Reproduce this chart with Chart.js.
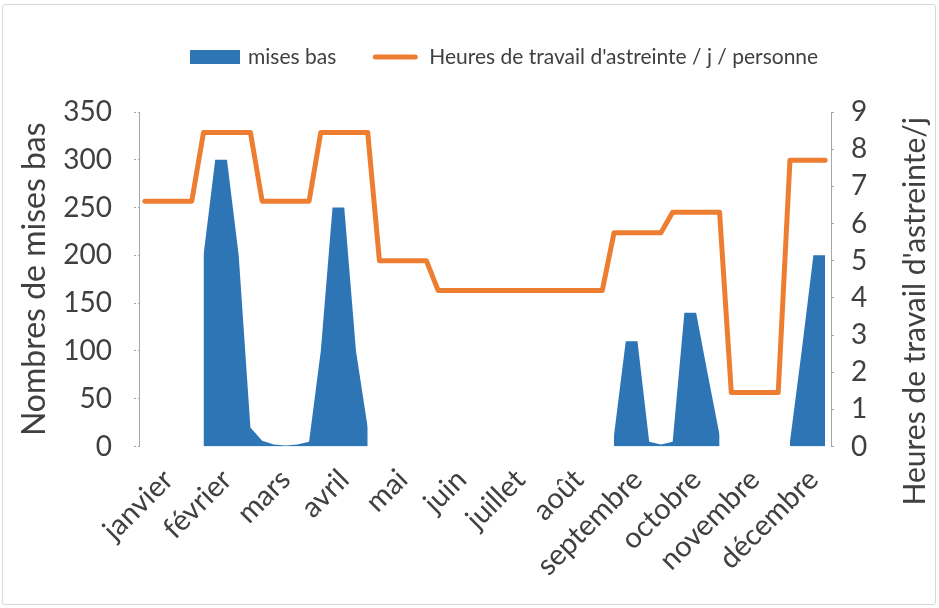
<!DOCTYPE html>
<html lang="fr">
<head>
<meta charset="utf-8">
<title>Mises bas et heures de travail d'astreinte</title>
<script src="https://cdn.jsdelivr.net/npm/chart.js@4.4.1/dist/chart.umd.min.js"></script>
<style>
  html, body { margin: 0; padding: 0; background: #fff; }
  #wrap { position: relative; width: 939px; height: 608px; }
  #frame {
    position: absolute; left: 2px; top: 4px; width: 934px; height: 601px;
    border: 1px solid #d9d9d9; border-radius: 3px; box-sizing: border-box;
    pointer-events: none;
  }
  canvas { display: block; }
</style>
</head>
<body>
<div id="wrap">
  <canvas id="chart" width="939" height="608"></canvas>
  <div id="frame"></div>
</div>
<script>
// Months of the year and how many weekly points each one holds
const months = ['janvier', 'février', 'mars', 'avril', 'mai', 'juin',
                'juillet', 'août', 'septembre', 'octobre', 'novembre', 'décembre'];
const pointsPerMonth = [5, 5, 5, 5, 5, 5, 5, 5, 5, 5, 5, 4];

// Number of farrowings (mises bas) per point, null when nothing happens
const misesBas = [
  null, null, null, null, null,   // janvier
  200, 300, 300, 200, 20,         // février
  6, 2, 1, 2, 5,                  // mars
  100, 250, 250, 100, 20,         // avril
  null, null, null, null, null,   // mai
  null, null, null, null, null,   // juin
  null, null, null, null, null,   // juillet
  null, null, null, null, null,   // août
  12, 110, 110, 5, 2,             // septembre
  5, 140, 140, 75, 12,            // octobre
  null, null, null, null, null,   // novembre
  5, 100, 200, 200                // décembre
];

// On-call working hours per day and per person
const heuresAstreinte = [
  6.6, 6.6, 6.6, 6.6, 6.6,        // janvier
  8.45, 8.45, 8.45, 8.45, 8.45,   // février
  6.6, 6.6, 6.6, 6.6, 6.6,        // mars
  8.45, 8.45, 8.45, 8.45, 8.45,   // avril
  5.0, 5.0, 5.0, 5.0, 5.0,        // mai
  4.2, 4.2, 4.2, 4.2, 4.2,        // juin
  4.2, 4.2, 4.2, 4.2, 4.2,        // juillet
  4.2, 4.2, 4.2, 4.2, 4.2,        // août
  5.75, 5.75, 5.75, 5.75, 5.75,   // septembre
  6.3, 6.3, 6.3, 6.3, 6.3,        // octobre
  1.45, 1.45, 1.45, 1.45, 1.45,   // novembre
  7.7, 7.7, 7.7, 7.7              // décembre
];

// Axis ranges
const leftAxisMax = 350, leftAxisStep = 50;
const rightAxisMax = 9, rightAxisStep = 1;

const leftTitle = 'Nombres de mises bas';
const rightTitle = "Heures de travail d'astreinte/j";
const seriesNames = ['mises bas', "Heures de travail d'astreinte / j / personne"];

// One category per point; the month name is shown under the middle point
const pointLabels = [];
const labelIndex = new Set();
months.forEach((m, i) => {
  const n = pointsPerMonth[i];
  for (let j = 0; j < n; j++) {
    if (j === 2) labelIndex.add(pointLabels.length);
    pointLabels.push(m);
  }
});

const FONT = 'Lato, "Open Sans", sans-serif';
const TEXT = '#404040';
const AXIS = '#a6a6a6';
const BLUE = '#2e75b6';
const ORANGE = '#ed7d31';

Chart.defaults.font.family = FONT;
Chart.defaults.color = TEXT;

// Right-hand axis title, reading bottom to top like the left one
const rightTitlePlugin = {
  id: 'rightTitle',
  afterDraw(chart) {
    const { ctx, chartArea } = chart;
    ctx.save();
    ctx.translate(chartArea.right + 84, (chartArea.top + chartArea.bottom) / 2 + 32);
    ctx.rotate(-Math.PI / 2);
    ctx.font = '30px ' + FONT;
    ctx.fillStyle = TEXT;
    ctx.textAlign = 'center';
    ctx.textBaseline = 'middle';
    ctx.fillText(rightTitle, 0, 0);
    ctx.restore();
  }
};

// Legend row above the plot: a filled box for the area, a stroke for the line
const legendRowPlugin = {
  id: 'legendRow',
  afterDraw(chart) {
    const { ctx } = chart;
    const ds = chart.data.datasets;
    const cy = 57;
    ctx.save();
    ctx.font = '21px ' + FONT;
    ctx.textBaseline = 'middle';
    let x = 190;
    ctx.fillStyle = ds[0].backgroundColor;
    ctx.fillRect(x, cy - 7, 50, 14);
    x += 58;
    ctx.fillStyle = TEXT;
    ctx.fillText(ds[0].label, x, cy);
    x += ctx.measureText(ds[0].label).width + 37;
    ctx.strokeStyle = ds[1].borderColor;
    ctx.lineWidth = 5;
    ctx.lineCap = 'round';
    ctx.beginPath();
    ctx.moveTo(x + 2, cy);
    ctx.lineTo(x + 42, cy);
    ctx.stroke();
    x += 56;
    ctx.fillText(ds[1].label, x, cy);
    ctx.restore();
  }
};

const axisGrid = {
  drawOnChartArea: false,
  drawTicks: true,
  tickLength: 5,
  color: AXIS,
  tickBorderDash: [2, 2]
};
const axisBorder = { display: true, color: AXIS, width: 1, dash: [2, 2] };

new Chart(document.getElementById('chart'), {
  type: 'line',
  data: {
    labels: pointLabels,
    datasets: [
      {
        label: seriesNames[0],
        data: misesBas,
        yAxisID: 'y',
        fill: 'origin',
        backgroundColor: BLUE,
        borderColor: 'rgba(0,0,0,0)',
        borderWidth: 0,
        pointRadius: 0,
        tension: 0,
        spanGaps: false,
        order: 1
      },
      {
        label: seriesNames[1],
        data: heuresAstreinte,
        yAxisID: 'y1',
        fill: false,
        borderColor: ORANGE,
        backgroundColor: ORANGE,
        borderWidth: 5,
        borderJoinStyle: 'round',
        borderCapStyle: 'round',
        pointRadius: 0,
        tension: 0,
        order: 0
      }
    ]
  },
  options: {
    responsive: false,
    animation: false,
    layout: { padding: { top: 112, left: 0, right: 0, bottom: 0 } },
    plugins: {
      legend: { display: false },
      tooltip: { enabled: false }
    },
    scales: {
      x: {
        type: 'category',
        offset: true,
        grid: { display: false, drawTicks: false },
        border: { display: false },
        ticks: {
          autoSkip: false,
          minRotation: 45,
          maxRotation: 45,
          padding: 16,
          font: { size: 29 },
          color: TEXT,
          callback: (value, index) => labelIndex.has(index) ? pointLabels[index] : ''
        },
        afterFit: (scale) => { scale.height = 161.5; }
      },
      y: {
        position: 'left',
        min: 0,
        max: leftAxisMax,
        ticks: { stepSize: leftAxisStep, padding: 22, font: { size: 28 }, color: TEXT },
        grid: axisGrid,
        border: axisBorder,
        title: {
          display: true,
          text: leftTitle,
          font: { size: 32 },
          color: TEXT,
          padding: { top: 15, bottom: 0 }
        },
        afterFit: (scale) => { scale.width = 139; }
      },
      y1: {
        position: 'right',
        min: 0,
        max: rightAxisMax,
        ticks: { stepSize: rightAxisStep, padding: 15, font: { size: 28 }, color: TEXT },
        grid: axisGrid,
        border: axisBorder,
        afterFit: (scale) => { scale.width = 108; }
      }
    }
  },
  plugins: [rightTitlePlugin, legendRowPlugin]
});
</script>
</body>
</html>
